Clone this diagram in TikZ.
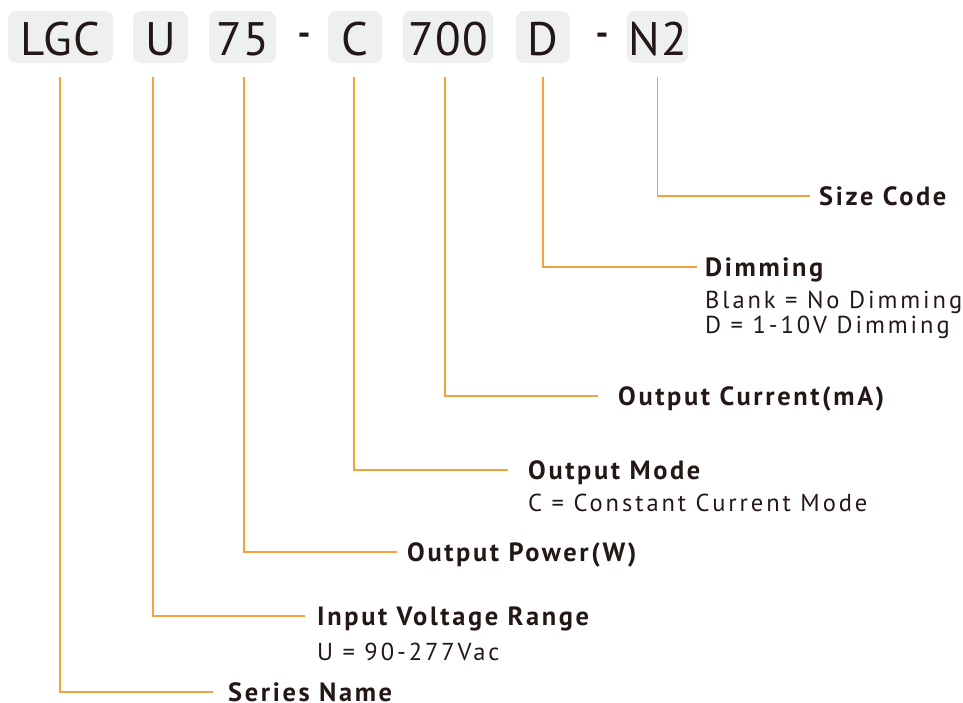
\documentclass[tikz,border=0pt]{standalone}
\usepackage{fontspec}
\setmainfont{PT Sans}
\newfontfamily\codefont[LetterSpace=3]{PT Sans}
\newfontfamily\labfont[LetterSpace=10]{PT Sans}
\newfontfamily\subfont[LetterSpace=12]{PT Sans}
\definecolor{ink}{HTML}{231815}
\definecolor{boxgray}{HTML}{EEEFEF}
\definecolor{lineorange}{HTML}{F5A23A}
\begin{document}
\begin{tikzpicture}[x=1pt,y=-1pt,
  codebox/.style={fill=boxgray,rounded corners=8pt,inner sep=0pt,minimum height=52pt,
    text height=36pt,text depth=0pt,font=\codefont\fontsize{47}{47}\selectfont,text=ink},
  codedash/.style={inner sep=0pt,font=\codefont\bfseries\fontsize{36}{36}\selectfont,text=ink},
  title/.style={anchor=west,inner sep=0pt,text height=18.5pt,text depth=0pt,
    font=\labfont\bfseries\fontsize{26.4}{26.4}\selectfont,text=ink},
  sub/.style={anchor=base west,inner sep=0pt,font=\subfont\fontsize{24.5}{24.5}\selectfont,text=ink},
  conn/.style={draw=lineorange,line width=1.5pt}]
\useasboundingbox (0,0) rectangle (963,702);
% code boxes
\node[codebox,minimum width=105pt] (lgc) at (60.5,37) {LGC};
\node[codebox,minimum width=55pt] (u) at (160.5,37) {U};
\node[codebox,minimum width=67pt] (p75) at (242.5,37) {75};
\node[codedash,anchor=base] (d1) at (304,45) {-};
\node[codebox,minimum width=54pt] (c) at (355,37) {C};
\node[codebox,minimum width=90pt] (i700) at (448,37) {700};
\node[codebox,minimum width=54pt] (dim) at (543,37) {D};
\node[codedash,anchor=base] (d2) at (602,45) {-};
\node[codebox,minimum width=61pt] (n2) at (657.5,37) {N2};
% labels
\node[title] (size) at (819,196) {Size Code};
\node[title] (dimt) at (705,267) {Dimming};
\node[sub] (dims1) at (705,308) {Blank = No Dimming};
\node[sub] (dims2) at (705,333) {D = 1-10V Dimming};
\node[title] (curr) at (618,396) {Output Current(mA)};
\node[title] (mode) at (528,470) {Output Mode};
\node[sub] (modes) at (528,511) {C = Constant Current Mode};
\node[title] (pow) at (407,552) {Output Power(W)};
\node[title] (inp) at (317,616) {Input Voltage Range};
\node[sub] (inps) at (317,660) {U = 90-277Vac};
\node[title] (ser) at (228,692) {Series Name};
% connectors
\draw[conn] ([yshift=-14pt]n2.south) |- ([xshift=-9pt]size.west);
\draw[conn] ([yshift=-14pt]dim.south) |- ([xshift=-8pt]dimt.west);
\draw[conn] ([xshift=-3pt,yshift=-14pt]i700.south) |- ([xshift=-20pt]curr.west);
\draw[conn] ([xshift=-1pt,yshift=-14pt]c.south) |- ([xshift=-20pt]mode.west);
\draw[conn] ([xshift=1.5pt,yshift=-14pt]p75.south) |- ([xshift=-10pt]pow.west);
\draw[conn] ([xshift=-7.5pt,yshift=-14pt]u.south) |- ([xshift=-12pt]inp.west);
\draw[conn] ([xshift=-0.5pt,yshift=-14pt]lgc.south) |- ([xshift=-15pt]ser.west);
\end{tikzpicture}
\end{document}
